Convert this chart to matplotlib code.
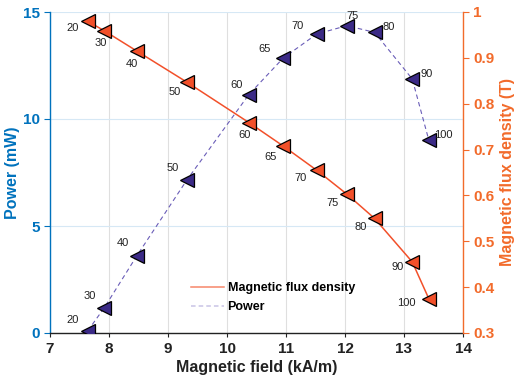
import matplotlib
matplotlib.use("Agg")
import matplotlib.pyplot as plt
from matplotlib.lines import Line2D

plt.rcParams['font.family'] = ['Liberation Sans', 'DejaVu Sans']

field = [7.64, 7.92, 8.47, 9.32, 10.37, 10.95, 11.52, 12.03, 12.50, 13.14, 13.42]
power = [0.1, 1.18, 3.6, 7.15, 11.14, 12.84, 13.97, 14.36, 14.05, 11.87, 9.02]
flux = [0.980, 0.959, 0.915, 0.847, 0.759, 0.708, 0.655, 0.603, 0.550, 0.455, 0.375]
point_labels = ['20', '30', '40', '50', '60', '65', '70', '75', '80', '90', '100']

power_offsets = [(-15, 11), (-15, 12), (-14, 13), (-14, 12), (-12, 10), (-18, 9), (-19, 8),
                 (6, 10), (14, 5), (14, 5), (15, 5)]
flux_offsets = [(-15, -7), (-4, -12), (-5, -13), (-12, -10), (-4, -12), (-12, -11), (-16, -8),
                (-14, -9), (-14, -9), (-15, -5), (-22, -4)]

BLUE = '#0072BD'
ORANGE = '#F26B2B'
PWR_FACE = '#3B2A86'
PWR_LINE = '#6A5DB8'
FLX = '#F2502A'

fig = plt.figure(figsize=(5.14, 3.82), dpi=100)
ax = fig.add_axes([50/514, 1-333/382, 413/514, 321/382])
ax2 = ax.twinx()

ax.plot(field, power, linestyle=(0, (4, 3)), color=PWR_LINE, lw=0.8,
        marker='<', markersize=9.5, markerfacecolor=PWR_FACE, markeredgecolor='black',
        markeredgewidth=0.9, zorder=3)
ax2.plot(field, flux, linestyle='-', color=FLX, lw=1.1,
         marker='<', markersize=9.5, markerfacecolor=FLX, markeredgecolor='black',
         markeredgewidth=0.9, zorder=3)

for x, y, t, o in zip(field, power, point_labels, power_offsets):
    ax.annotate(t, (x, y), xytext=o, textcoords='offset pixels', ha='center', va='center',
                fontsize=8, color='#222222')
for x, y, t, o in zip(field, flux, point_labels, flux_offsets):
    ax2.annotate(t, (x, y), xytext=o, textcoords='offset pixels', ha='center', va='center',
                 fontsize=8, color='#222222')

ax.set_xlim(7, 14)
ax.set_ylim(0, 15)
ax2.set_ylim(0.3, 1.0)
ax.set_xticks([7, 8, 9, 10, 11, 12, 13, 14])
ax.set_yticks([0, 5, 10, 15])
ax2.set_yticks([0.3, 0.4, 0.5, 0.6, 0.7, 0.8, 0.9, 1.0])
ax2.set_yticklabels(['0.3', '0.4', '0.5', '0.6', '0.7', '0.8', '0.9', '1'])

ax.grid(axis='x', color='#dfdfdf', lw=0.8)
ax.grid(axis='y', color='#d6e8f5', lw=0.8)
ax.set_axisbelow(True)

ax.spines['top'].set_visible(False)
ax2.spines['top'].set_visible(False)
ax.spines['right'].set_visible(False)
ax2.spines['left'].set_visible(False)
ax2.spines['bottom'].set_visible(False)
ax.spines['left'].set_color(BLUE)
ax2.spines['right'].set_color(ORANGE)
ax.spines['bottom'].set_color('#222222')
for s in ['left', 'bottom']:
    ax.spines[s].set_linewidth(1.0)
ax2.spines['right'].set_linewidth(1.0)

ax.tick_params(axis='x', colors='#222222', labelsize=11, length=3, width=0.8)
ax.tick_params(axis='y', colors=BLUE, labelsize=11, length=4, width=0.8)
ax2.tick_params(axis='y', colors=ORANGE, labelsize=11, length=4, width=0.8)
for lab in ax.get_xticklabels() + ax.get_yticklabels() + ax2.get_yticklabels():
    lab.set_fontweight('bold')

ax.set_xlabel('Magnetic field (kA/m)', fontsize=11.5, fontweight='bold', color='#222222', labelpad=3)
ax.set_ylabel('Power (mW)', fontsize=11.5, fontweight='bold', color=BLUE, labelpad=2)
ax2.set_ylabel('Magnetic flux density (T)', fontsize=11.5, fontweight='bold', color=ORANGE, labelpad=4)

handles = [Line2D([], [], color='#F7866A', lw=1.1),
           Line2D([], [], color='#C9C4E6', lw=1.1, linestyle=(0, (3, 2)))]
leg = ax.legend(handles, ['Magnetic flux density', 'Power'], loc='center left',
                bbox_to_anchor=(0.315, 0.11), frameon=False, handlelength=2.6,
                handletextpad=0.3, labelspacing=0.55,
                prop={'weight': 'bold', 'size': 9})

fig.savefig('out.png', dpi=100)
